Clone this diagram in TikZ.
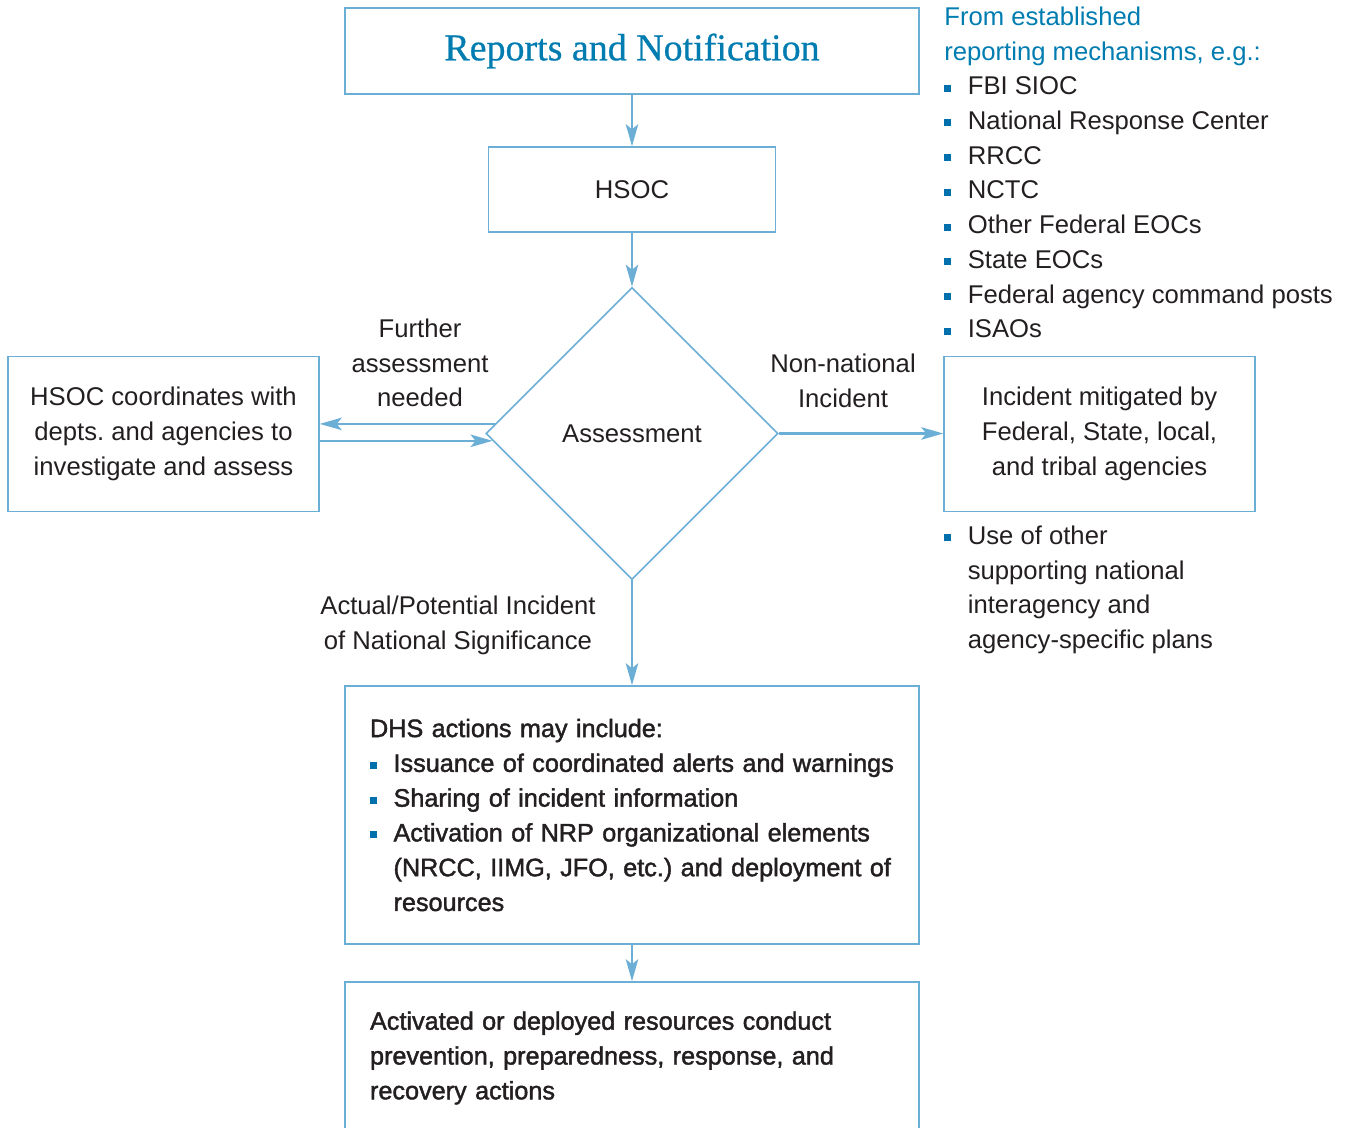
\documentclass[tikz,border=0pt]{standalone}
\usepackage{fontspec}
\setmainfont{Liberation Sans}
\newfontfamily\titlefont[FakeBold=0.6]{Liberation Serif}
\newfontfamily\heavyfont[FakeBold=1.6]{Liberation Sans}
\usepackage{xcolor}
\usetikzlibrary{shapes.geometric, arrows.meta, positioning}
\frenchspacing

\definecolor{lineblue}{RGB}{107,174,214}
\definecolor{titleblue}{RGB}{0,124,176}
\definecolor{dotblue}{RGB}{0,112,172}
\definecolor{textgray}{RGB}{35,31,32}

\newcommand{\blt}{\makebox[0.47cm][l]{\textcolor{dotblue}{\rule[0.12em]{0.14cm}{0.14cm}}}}
\newcommand{\hng}{\hspace*{0.47cm}}

\begin{document}
\begin{tikzpicture}[x=0.02cm, y=-0.02cm,
      every node/.style={text=textgray, font=\fontsize{14.6}{19.75}\selectfont},
      box/.style={draw=lineblue, line width=0.9pt, inner sep=0pt},
      arr/.style={draw=lineblue, line width=1.2pt, -{Stealth[length=0.44cm, width=0.25cm, inset=0.1cm]}},
      lbl/.style={align=center, inner sep=0pt},
      lst/.style={align=left, anchor=north west, inner sep=0pt}]
      \useasboundingbox (0,0) rectangle (1351,1128);
      % main column
      \node[box, minimum width=11.48cm, minimum height=1.72cm, text=titleblue,
        font=\titlefont\fontsize{21.6}{24}\selectfont] (reports) at (632,51) {Reports and Notification};
      \node[box, minimum width=5.74cm, minimum height=1.7cm] (hsoc) at (632,189.5) {HSOC};
      \node[box, diamond, minimum width=5.84cm, minimum height=5.84cm] (assess) at (632,433.5) {Assessment};
      \node[box, minimum width=11.48cm, minimum height=5.16cm, text width=10.48cm, align=left,
        font=\heavyfont\fontsize{14.35}{19.8}\selectfont] (dhs) at (632,815)
        {DHS actions may include:\\
        \blt\mbox{Issuance of coordinated alerts and warnings}\\
        \blt\mbox{Sharing of incident information}\\
        \blt\mbox{Activation of NRP organizational elements}\\
        \hng\mbox{(NRCC, IIMG, JFO, etc.) and deployment of}\\
        \hng\mbox{resources}};
      \node[box, minimum width=11.48cm, minimum height=3.04cm, text width=10.48cm, align=left,
        font=\heavyfont\fontsize{14.35}{19.8}\selectfont] (deployed) at (632,1058)
        {Activated or deployed resources conduct\\
        prevention, preparedness, response, and\\
        recovery actions};
      % side boxes
      \node[box, minimum width=6.22cm, minimum height=3.1cm, align=center] (coord) at (163.5,434)
        {HSOC coordinates with\\depts. and agencies to\\investigate and assess};
      \node[box, minimum width=6.22cm, minimum height=3.1cm, align=center] (mitigated) at (1099.5,434)
        {Incident mitigated by\\Federal, State, local,\\and tribal agencies};
      % labels
      \node[lbl] (further) at (420,363) {Further\\assessment\\needed};
      \node[lbl] (nonnat) at (843,380.5) {Non-national\\Incident};
      \node[lbl] (actual) at (458,625.5) {Actual/Potential Incident\\of National Significance};
      % lists on the right
      \node[lst] (sources) at (944,6.5)
        {\textcolor{titleblue}{From established}\\
        \textcolor{titleblue}{reporting mechanisms, e.g.:}\\
        \blt FBI SIOC\\
        \blt National Response Center\\
        \blt RRCC\\
        \blt NCTC\\
        \blt Other Federal EOCs\\
        \blt State EOCs\\
        \blt Federal agency command posts\\
        \blt ISAOs};
      \node[lst] (plans) at (944,525.5)
        {\blt Use of other\\
        \hng supporting national\\
        \hng interagency and\\
        \hng agency-specific plans};
      % connectors
      \draw[arr] (reports) -- (hsoc);
      \draw[arr] (hsoc) -- (assess);
      \draw[arr] (assess) -- (mitigated.west |- assess);
      \draw[arr] (assess.176.7) -- (assess.176.7 -| coord.east);
      \draw[arr] (assess.183.3 -| coord.east) -- (assess.183.3);
      \draw[arr] (assess) -- (dhs);
      \draw[arr] (dhs) -- (deployed);
    \end{tikzpicture}
\end{document}
